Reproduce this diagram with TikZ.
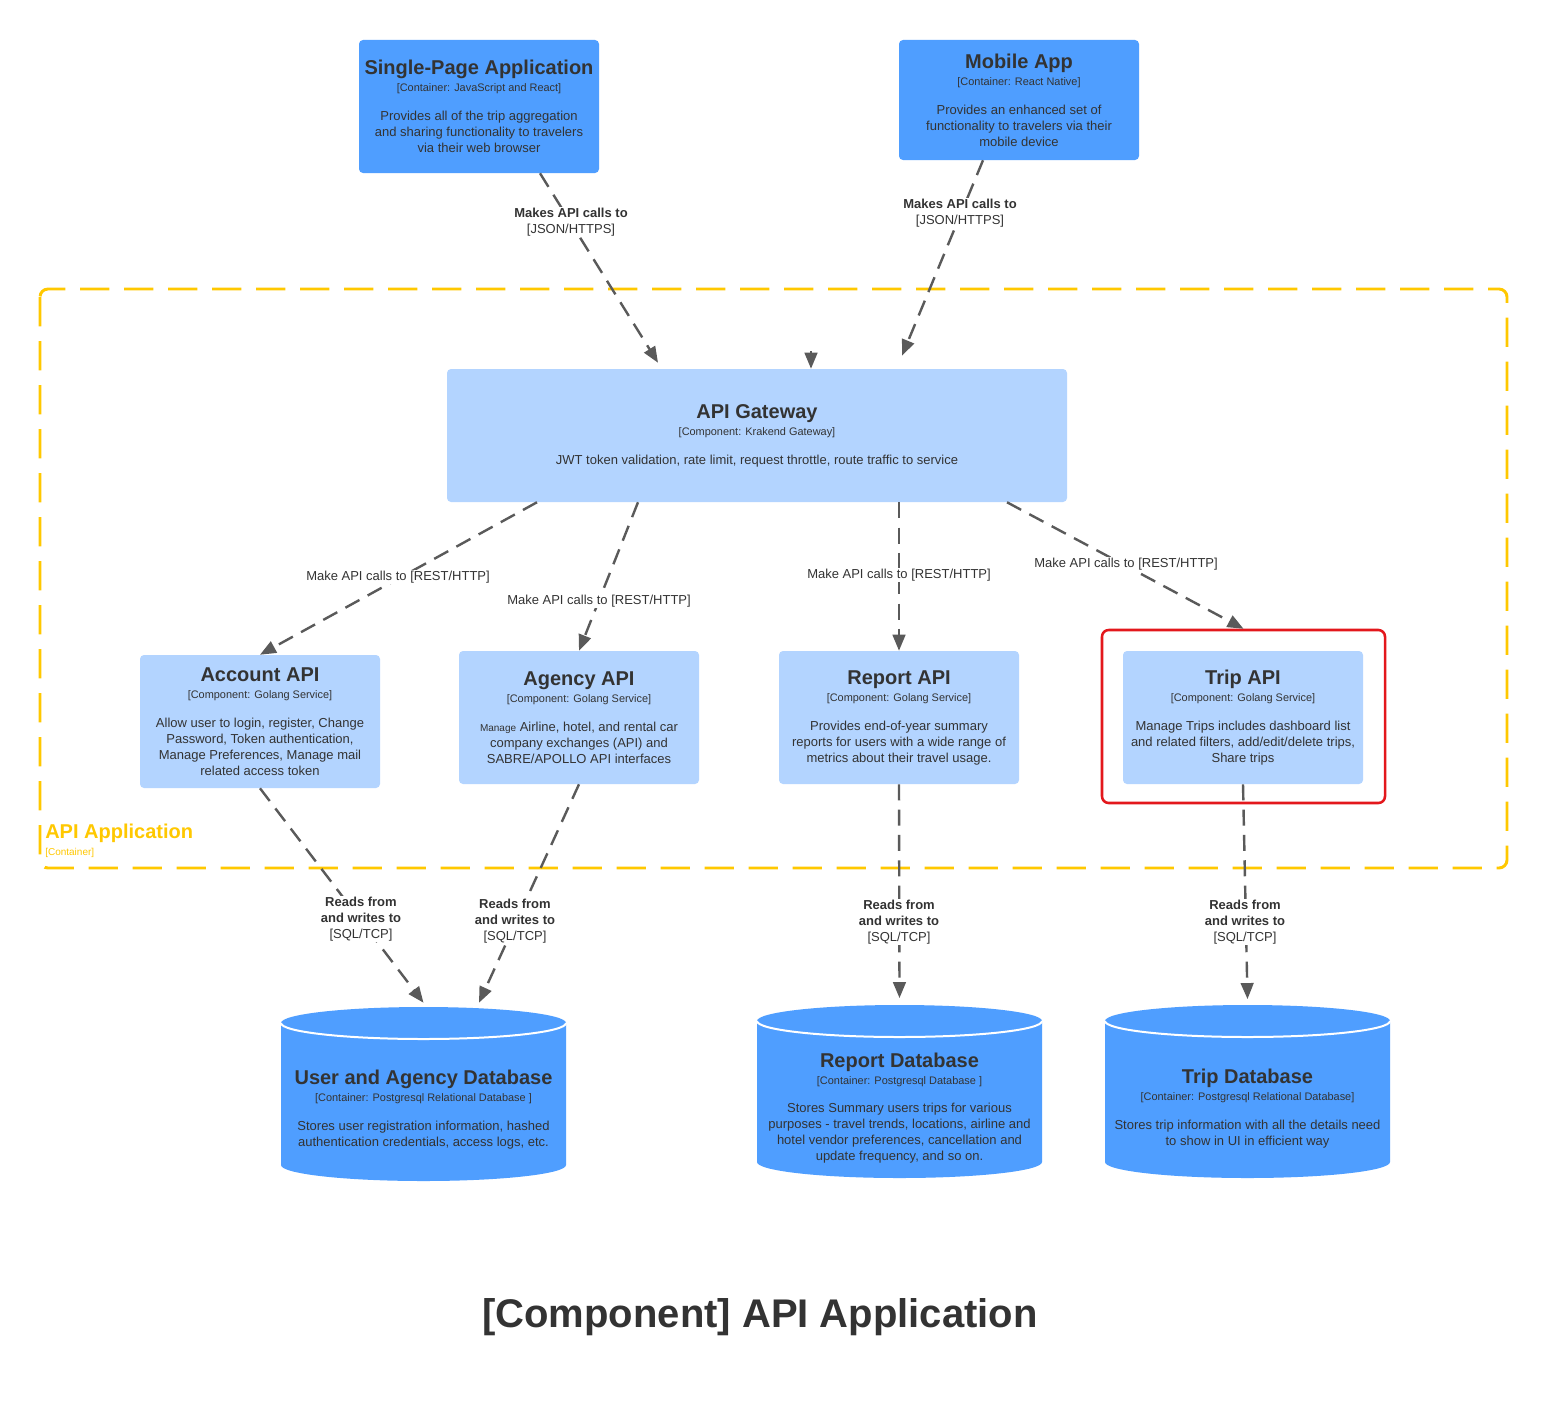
\documentclass[tikz,border=0pt]{standalone}
\usepackage{fontspec}
\setmainfont{Liberation Sans}
\usetikzlibrary{arrows.meta}
\definecolor{boxblue}{HTML}{4F9EFF}
\definecolor{compblue}{HTML}{B3D4FF}
\definecolor{inkgray}{HTML}{333333}
\definecolor{linegray}{HTML}{5A5A5A}
\definecolor{scopeyellow}{HTML}{FFC800}
\definecolor{focusred}{HTML}{E3171C}
\newcommand{\boxtitle}[1]{{\fontsize{15}{15}\selectfont\bfseries #1}}
\newcommand{\boxsub}[1]{{\fontsize{8.2}{10}\selectfont #1}}
\newcommand{\dbdrum}[3]{%
\fill[boxblue] (#1-142.5,#2+16) -- (#1-142.5,#3-16) arc[start angle=180,end angle=0,x radius=142.5,y radius=16] -- (#1+142.5,#2+16) arc[start angle=0,end angle=-180,x radius=142.5,y radius=16] -- cycle;
\draw[white,line width=1.5pt] (#1-142.5,#2+16) arc[start angle=180,end angle=0,x radius=142.5,y radius=16];}

\begin{document}
\begin{tikzpicture}[x=0.75pt,y=-0.75pt,
  every node/.style={text=inkgray, font=\fontsize{9.75}{12}\selectfont},
  container/.style={fill=boxblue, rounded corners=3pt, align=center, inner sep=0pt, minimum width=180pt},
  component/.style={fill=compblue, rounded corners=3pt, align=center, inner sep=0pt, minimum width=180pt, minimum height=99.75pt},
  database/.style={align=center, inner sep=0pt, minimum width=213.75pt, minimum height=160.5pt},
  calls/.style={draw=linegray, line width=1.8pt, dash pattern=on 12pt off 7pt, -{Triangle[length=12pt,width=9.5pt]}},
  tag/.style={fill=white, align=center, inner sep=1pt}]
\fill[white] (0,0) rectangle (1548,1413);
\useasboundingbox (0,0) rectangle (1548,1413);

\draw[scopeyellow, line width=2.2pt, dash pattern=on 22pt off 11pt, rounded corners=6pt] (40,289) rectangle (1507,868);
\node[anchor=west, text=scopeyellow, font=\fontsize{15}{15}\selectfont\bfseries, inner sep=0pt] (apptitle) at (45,833) {API Application};
\node[anchor=west, text=scopeyellow, font=\fontsize{7.5}{9}\selectfont, inner sep=0pt] (apptype) at (45,853) {[Container]};

\node[container, minimum height=99.75pt] (spa) at (479,106.5) {\boxtitle{Single-Page Application}\\[0.75pt]\boxsub{[Container: JavaScript and React]}\\[9.75pt]Provides all of the trip aggregation\\and sharing functionality to travelers\\via their web browser};
\node[container, minimum height=90pt] (mobile) at (1019,100) {\boxtitle{Mobile App}\\[0.75pt]\boxsub{[Container: React Native]}\\[9.75pt]Provides an enhanced set of\\functionality to travelers via their\\mobile device};
\node[component, minimum width=465pt] (gw) at (757,435.5) {\boxtitle{API Gateway}\\[0.75pt]\boxsub{[Component: Krakend Gateway]}\\[9.75pt]JWT token validation, rate limit, request throttle, route traffic to service};
\node[component] (account) at (260,721.5) {\boxtitle{Account API}\\[0.75pt]\boxsub{[Component: Golang Service]}\\[9.75pt]Allow user to login, register, Change\\Password, Token authentication,\\Manage Preferences, Manage mail\\related access token};
\node[component] (agency) at (579,717.5) {\boxtitle{Agency API}\\[0.75pt]\boxsub{[Component: Golang Service]}\\[9.75pt]{\fontsize{7.5}{12}\selectfont Manage} Airline, hotel, and rental car\\company exchanges (API) and\\SABRE/APOLLO API interfaces};
\node[component] (report) at (899,717.5) {\boxtitle{Report API}\\[0.75pt]\boxsub{[Component: Golang Service]}\\[9.75pt]Provides end-of-year summary\\reports for users with a wide range of\\metrics about their travel usage.};
\node[component] (trip) at (1243,717.5) {\boxtitle{Trip API}\\[0.75pt]\boxsub{[Component: Golang Service]}\\[9.75pt]Manage Trips includes dashboard list\\and related filters, add/edit/delete trips,\\Share trips};
\node[draw=focusred, line width=1.9pt, rounded corners=5pt, minimum width=212.25pt, minimum height=129.75pt, inner sep=0pt] (tripfocus) at (1243.5,716.5) {};

\dbdrum{423.5}{1007}{1181}
\dbdrum{899.5}{1005}{1178}
\dbdrum{1247.5}{1005}{1178}
\node[database] (uadb) at (423.5,1110) {\boxtitle{User and Agency Database}\\[0.75pt]\boxsub{[Container: Postgresql Relational Database ]}\\[9.75pt]Stores user registration information, hashed\\authentication credentials, access logs, etc.};
\node[database] (rdb) at (899.5,1108) {\boxtitle{Report Database}\\[0.75pt]\boxsub{[Container: Postgresql Database ]}\\[9pt]Stores Summary users trips for various\\purposes - travel trends, locations, airline and\\hotel vendor preferences, cancellation and\\update frequency, and so on.};
\node[database] (tdb) at (1247.5,1109) {\boxtitle{Trip Database}\\[0.75pt]\boxsub{[Container: Postgresql Relational Database]}\\[9.75pt]Stores trip information with all the details need\\to show in UI in efficient way};

\path[calls] ([xshift=45.75pt]spa.south) -- ([xshift=-74.25pt,yshift=4.5pt]gw.north);
\path[calls] ([xshift=-27pt]mobile.south) -- ([xshift=108.75pt,yshift=9.75pt]gw.north);
\path[calls] ([xshift=40.5pt,yshift=13pt]gw.north) -- ([xshift=40.5pt]gw.north);
\path[calls] ([xshift=-165pt]gw.south) -- (account.north);
\path[calls] ([xshift=-89.25pt]gw.south) -- (agency.north);
\path[calls] ([xshift=106.5pt]gw.south) -- (report.north);
\path[calls] ([xshift=187.5pt]gw.south) -- (tripfocus.north);
\path[calls] (account.south) -- (uadb.north);
\path[calls] (agency.south) -- ([xshift=41.6pt]uadb.north);
\path[calls] (report.south) -- ([yshift=2pt]rdb.north);
\path[calls] (trip.south) -- ([yshift=2pt]tdb.north);

\node[tag] (spacall) at (571,222) {\textbf{Makes API calls to}\\{}[JSON/HTTPS]};
\node[tag] (mobilecall) at (960,213) {\textbf{Makes API calls to}\\{}[JSON/HTTPS]};
\node[tag] (accountcall) at (398,577) {Make API calls to [REST/HTTP]};
\node[tag] (agencycall) at (599,601) {Make API calls to [REST/HTTP]};
\node[tag] (reportcall) at (899,575) {Make API calls to [REST/HTTP]};
\node[tag] (tripcall) at (1126,564) {Make API calls to [REST/HTTP]};
\node[tag] (accountdb) at (361,919) {\textbf{Reads from}\\\textbf{and writes to}\\{}[SQL/TCP]};
\node[tag] (agencydb) at (515,921) {\textbf{Reads from}\\\textbf{and writes to}\\{}[SQL/TCP]};
\node[tag] (reportdb) at (899,922) {\textbf{Reads from}\\\textbf{and writes to}\\{}[SQL/TCP]};
\node[tag] (tripdb) at (1245,922) {\textbf{Reads from}\\\textbf{and writes to}\\{}[SQL/TCP]};

\node[font=\fontsize{30}{36}\selectfont\bfseries] (diagramtitle) at (760,1317) {[Component] API Application};
\end{tikzpicture}
\end{document}
